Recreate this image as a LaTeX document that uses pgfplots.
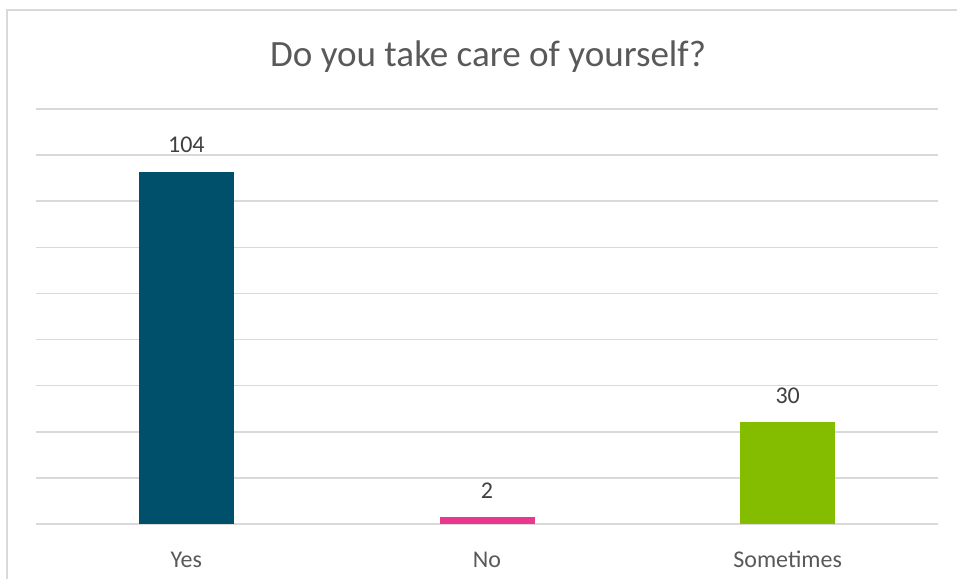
\documentclass[border=0pt]{standalone}
\usepackage{pgfplots}
\pgfplotsset{compat=1.18}
\usepackage{fontspec}
\setmainfont{Carlito}
\definecolor{titleg}{HTML}{595959}
\definecolor{labg}{HTML}{595959}
\definecolor{datag}{HTML}{404040}
\definecolor{gridg}{HTML}{D9D9D9}
\definecolor{borderg}{HTML}{D9D9D9}
\definecolor{cyes}{HTML}{00506B}
\definecolor{cno}{HTML}{E8398F}
\definecolor{csome}{HTML}{84BC00}
\begin{document}
\begin{tikzpicture}
\useasboundingbox (0pt,0pt) rectangle (717.75pt,434.25pt);
\draw[color=borderg, line width=1.5pt] (5.25pt,0pt) -- (5.25pt,426.75pt) -- (717.75pt,426.75pt);
\node[anchor=base, text=titleg, font=\fontsize{27.8}{32}\selectfont, inner sep=0pt] at (366pt,384pt) {Do you take care of yourself?};
\begin{axis}[
  at={(27pt,41.25pt)}, anchor=south west,
  scale only axis, width=676.5pt, height=311.25pt,
  xmin=-0.5, xmax=2.5, ymin=0, ymax=122.6,
  axis line style={draw=none},
  tick style={draw=none},
  ytick={0,13.622,27.244,40.867,54.489,68.111,81.733,95.356,108.978,122.6},
  yticklabels={},
  ymajorgrids,
  grid style={color=gridg, line width=1.1pt},
  xtick={0,1,2},
  xticklabels={Yes,No,Sometimes},
  xticklabel style={anchor=base, yshift=-28.5pt, text=labg, font=\fontsize{18}{21}\selectfont},
  ybar, bar width=71.25pt,
  nodes near coords,
  /pgf/number format/assume math mode=true,
  every node near coord/.append style={anchor=base, yshift=14.25pt, inner sep=0pt, text=datag, font=\fontsize{18}{21}\selectfont},
  clip=false,
]
\addplot[fill=cyes, draw=none, bar shift=0pt] coordinates {(0,104)};
\addplot[fill=cno, draw=none, bar shift=0pt] coordinates {(1,2)};
\addplot[fill=csome, draw=none, bar shift=0pt] coordinates {(2,30)};
\end{axis}
\end{tikzpicture}
\end{document}
